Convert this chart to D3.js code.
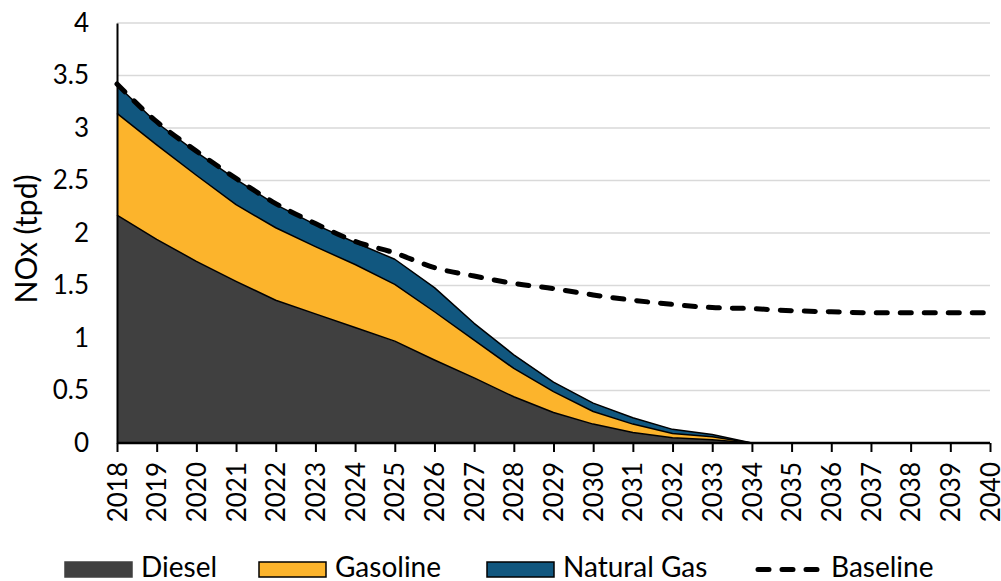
<!DOCTYPE html>
<html>
<head>
<meta charset="utf-8">
<script src="https://cdn.jsdelivr.net/npm/d3@7"></script>
<style>
  html, body { margin: 0; padding: 0; background: #fff; }
  svg text { font-family: Lato, "Noto Sans", sans-serif; fill: #000; }
</style>
</head>
<body>
<svg id="chart" width="1001" height="581"></svg>
<script>
// NOx emissions by fuel type (tons per day), 2018–2040
const years = d3.range(2018, 2041);
const diesel   = [2.17, 1.94, 1.73, 1.54, 1.36, 1.23, 1.10, 0.97, 0.79, 0.62, 0.44, 0.29, 0.18, 0.10, 0.05, 0.03, 0, 0, 0, 0, 0, 0, 0];
const gasoline = [0.97, 0.90, 0.82, 0.73, 0.69, 0.64, 0.60, 0.54, 0.46, 0.36, 0.27, 0.20, 0.12, 0.08, 0.04, 0.03, 0, 0, 0, 0, 0, 0, 0];
const natGas   = [0.27, 0.21, 0.22, 0.24, 0.22, 0.21, 0.21, 0.24, 0.23, 0.16, 0.13, 0.09, 0.08, 0.06, 0.04, 0.02, 0, 0, 0, 0, 0, 0, 0];
const baseline = [3.42, 3.06, 2.78, 2.52, 2.28, 2.09, 1.92, 1.81, 1.67, 1.59, 1.52, 1.47, 1.41, 1.36, 1.32, 1.29, 1.28, 1.26, 1.25, 1.24, 1.24, 1.24, 1.24];
const yTicks = [0, 0.5, 1, 1.5, 2, 2.5, 3, 3.5, 4];

const seriesNames = ["Diesel", "Gasoline", "Natural Gas"];
const seriesColors = ["#404040", "#FCB42C", "#11577F"];

const rows = years.map((yr, i) => ({
  year: yr,
  "Diesel": diesel[i],
  "Gasoline": gasoline[i],
  "Natural Gas": natGas[i]
}));

const svg = d3.select("#chart");
const x = d3.scaleLinear().domain([2018, 2040]).range([117, 990]);
const y = d3.scaleLinear().domain([0, 4]).range([443, 23]);

// horizontal gridlines
svg.append("g")
  .selectAll("line")
  .data(yTicks.filter(d => d > 0))
  .join("line")
  .attr("x1", x(2018)).attr("x2", x(2040))
  .attr("y1", d => y(d)).attr("y2", d => y(d))
  .attr("stroke", "#d9d9d9").attr("stroke-width", 1.5);

// stacked areas
const stacked = d3.stack().keys(seriesNames)(rows);
const area = d3.area()
  .x(d => x(d.data.year))
  .y0(d => y(d[0]))
  .y1(d => y(d[1]));
const topLine = d3.line()
  .x(d => x(d.data.year))
  .y(d => y(d[1]));

svg.append("g").selectAll("path")
  .data(stacked)
  .join("path")
  .attr("d", area)
  .attr("fill", (d, i) => seriesColors[i]);

svg.append("g").selectAll("path")
  .data(stacked)
  .join("path")
  .attr("d", topLine)
  .attr("fill", "none")
  .attr("stroke", "#000")
  .attr("stroke-width", 1.5)
  .attr("stroke-linejoin", "round");

// baseline dashed line
const baseLine = d3.line()
  .x((d, i) => x(years[i]))
  .y(d => y(d))
  .curve(d3.curveMonotoneX);
svg.append("path")
  .datum(baseline)
  .attr("d", baseLine)
  .attr("fill", "none")
  .attr("stroke", "#000")
  .attr("stroke-width", 5)
  .attr("stroke-dasharray", "11,13")
  .attr("stroke-linecap", "round");

// y axis
const yAxis = d3.axisLeft(y).tickValues(yTicks).tickSize(0).tickPadding(28)
  .tickFormat(d => String(d));
const gy = svg.append("g").attr("transform", `translate(${x(2018)},0)`).call(yAxis);
gy.select(".domain").attr("stroke", "#000").attr("stroke-width", 2);
gy.selectAll("text").attr("font-size", 26).attr("font-family", "Lato, sans-serif");

// x axis
const xAxis = d3.axisBottom(x).tickValues(years).tickSize(9).tickFormat(d3.format("d"));
const gx = svg.append("g").attr("transform", `translate(0,${y(0)})`).call(xAxis);
gx.select(".domain").attr("stroke", "#000").attr("stroke-width", 2.5).attr("d", `M${x(2018)},0H${x(2040)}`);
gx.selectAll(".tick line").attr("stroke", "#000").attr("stroke-width", 2);
gx.selectAll("text")
  .attr("font-size", 26)
  .attr("font-family", "Lato, sans-serif")
  .attr("text-anchor", "end")
  .attr("dy", "0.35em")
  .attr("transform", "translate(0,19) rotate(-90)")
  .attr("x", 0).attr("y", 0);

// y axis title
svg.append("text")
  .attr("transform", `translate(25,239) rotate(-90)`)
  .attr("text-anchor", "middle")
  .attr("dominant-baseline", "central")
  .attr("font-size", 30)
  .text("NOx (tpd)");

// legend
const legendItems = [
  { name: "Diesel", type: "area", color: seriesColors[0], x: 65 },
  { name: "Gasoline", type: "area", color: seriesColors[1], x: 259 },
  { name: "Natural Gas", type: "area", color: seriesColors[2], x: 487 },
  { name: "Baseline", type: "line", x: 755 }
];
const lg = svg.append("g");
legendItems.forEach(it => {
  if (it.type === "area") {
    lg.append("rect")
      .attr("x", it.x).attr("y", 562).attr("width", 67).attr("height", 15)
      .attr("fill", it.color)
      .attr("stroke", it.name === "Diesel" ? it.color : "#000")
      .attr("stroke-width", 1.5);
  } else {
    lg.append("line")
      .attr("x1", it.x + 3).attr("x2", it.x + 62)
      .attr("y1", 569.5).attr("y2", 569.5)
      .attr("stroke", "#000").attr("stroke-width", 5)
      .attr("stroke-dasharray", "11,13").attr("stroke-linecap", "round");
  }
  lg.append("text")
    .attr("x", it.x + 76).attr("y", 577)
    .attr("font-size", 28)
    .text(it.name);
});
</script>
</body>
</html>
